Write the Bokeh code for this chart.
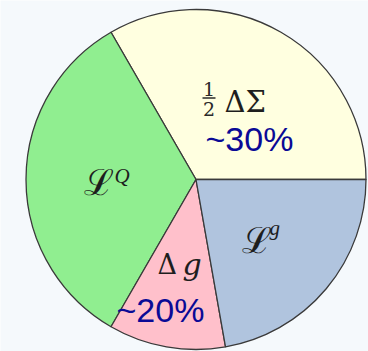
import numpy as np
from bokeh.plotting import figure
from bokeh.models import ColumnDataSource
from bokeh.core.properties import value
from bokeh.embed import file_html
from bokeh.resources import INLINE

# ---- data ----
parts = ["half_DeltaSigma", "L_Q", "Delta_g", "L_g"]
shares = [33.3, 33.3, 11.1, 22.2]          # percent of the pie, counter-clockwise from 3 o'clock
colors = ["#FFFFE0", "#90EE90", "#FFC0CB", "#B0C4DE"]
pct_labels = ["~30%", "~20%"]

W, H = 368, 351
p = figure(width=W, height=H, x_range=(0, W), y_range=(0, H),
           output_backend="svg", toolbar_location=None, min_border=0)
p.axis.visible = False
p.grid.visible = False
p.outline_line_color = None
p.background_fill_color = "#F5F9FC"
p.border_fill_color = "#F5F9FC"

cx, cy, r = 195.5, 351 - 179, 170

frac = np.array(shares) / np.sum(shares)
ends = np.cumsum(frac) * 2 * np.pi
starts = np.concatenate([[0], ends[:-1]])
src = ColumnDataSource(dict(start=starts, end=ends, color=colors, part=parts))
p.wedge(x=cx, y=cy, radius=r, start_angle="start", end_angle="end",
        fill_color="color", line_color="#3a3a3a", line_width=1.3, source=src)

def sy(y):
    return H - y

dserif = value("DejaVu Serif")
lserif = value("Liberation Serif")
ink = "#1e1e1e"

def txt(x, y, s, font, size, style="normal", color=ink, align="left"):
    # y is the wanted baseline in screen pixels
    yy = y - 0.28 * size
    p.text(x=[x], y=[sy(yy)], text=[s], text_font=font, text_font_size=value(f"{size}px"),
           text_font_style=style, text_align=align, text_baseline="alphabetic",
           text_color=color)

# 1/2 Delta Sigma
txt(208.5, 94, "1", dserif, 19, color="#2a2a2a", align="center")
txt(208.5, 114, "2", dserif, 19, color="#2a2a2a", align="center")
p.segment(x0=[202], y0=[sy(97.5)], x1=[215], y1=[sy(97.5)], line_color="#2a2a2a", line_width=1.3)
txt(224, 110, "ΔΣ", dserif, 29)

# percentages
sans = value("Liberation Sans")
for s, x, y in zip(pct_labels, [205, 116], [148, 319]):
    txt(x, y, s, sans, 34, color="#0a0a96")

# L^Q
txt(83, 192, "ℒ", dserif, 36)
txt(114, 181, "Q", lserif, 21, style="italic")

# L^g
txt(241, 250, "ℒ", dserif, 36)
txt(269, 233, "g", lserif, 21, style="italic")

# Delta g
txt(157, 272, "Δ", dserif, 27)
txt(182, 272, "g", dserif, 30, style="italic")

open("out.html", "w").write(file_html(p, INLINE))
